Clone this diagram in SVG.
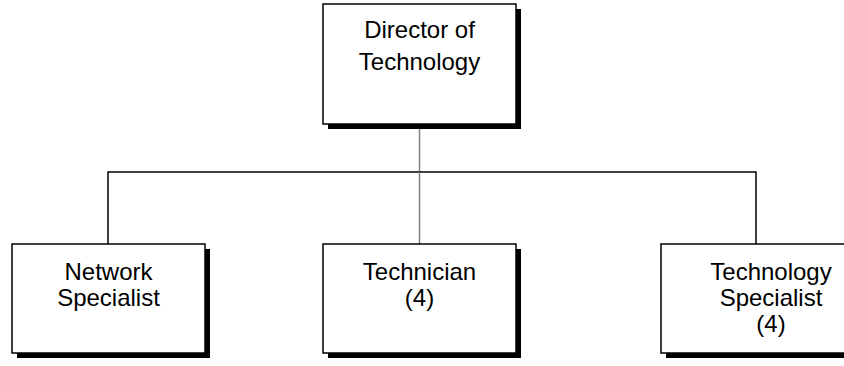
<svg xmlns="http://www.w3.org/2000/svg" width="844" height="366" viewBox="0 0 844 366">
<style>
.box{fill:#fff;stroke:#000;stroke-width:1.5}
.sh{fill:#000}
.t{font-family:"Liberation Sans",Arial,sans-serif;font-size:24px;fill:#000;text-anchor:middle}
.c{fill:none;stroke:#000;stroke-width:1.5}
.g{fill:none;stroke:#808080;stroke-width:1.5}
</style>
<rect width="844" height="366" fill="#fff"/>
<g id="connectors">
<line class="g" x1="419.5" y1="124" x2="419.5" y2="172"/>
<polyline class="c" points="108,244 108,172 756,172 756,244"/>
<line class="g" x1="419.5" y1="172" x2="419.5" y2="244"/>
</g>
<g id="director">
<rect class="sh" x="328" y="9" width="193" height="120"/>
<rect class="box" x="323" y="4" width="193" height="120"/>
<text class="t" x="419.5" y="38">Director of</text>
<text class="t" x="419.5" y="70">Technology</text>
</g>
<g id="network">
<rect class="sh" x="17" y="249" width="193" height="109"/>
<rect class="box" x="12" y="244" width="193" height="109"/>
<text class="t" x="108.5" y="280">Network</text>
<text class="t" x="108.5" y="306">Specialist</text>
</g>
<g id="technician">
<rect class="sh" x="328" y="249" width="193" height="109"/>
<rect class="box" x="323" y="244" width="193" height="109"/>
<text class="t" x="419.5" y="280">Technician</text>
<text class="t" x="419.5" y="306">(4)</text>
</g>
<g id="techspec">
<rect class="sh" x="666" y="249" width="193" height="109"/>
<rect class="box" x="661" y="244" width="193" height="109"/>
<text class="t" x="771" y="280">Technology</text>
<text class="t" x="771" y="306">Specialist</text>
<text class="t" x="771" y="332">(4)</text>
</g>
</svg>
